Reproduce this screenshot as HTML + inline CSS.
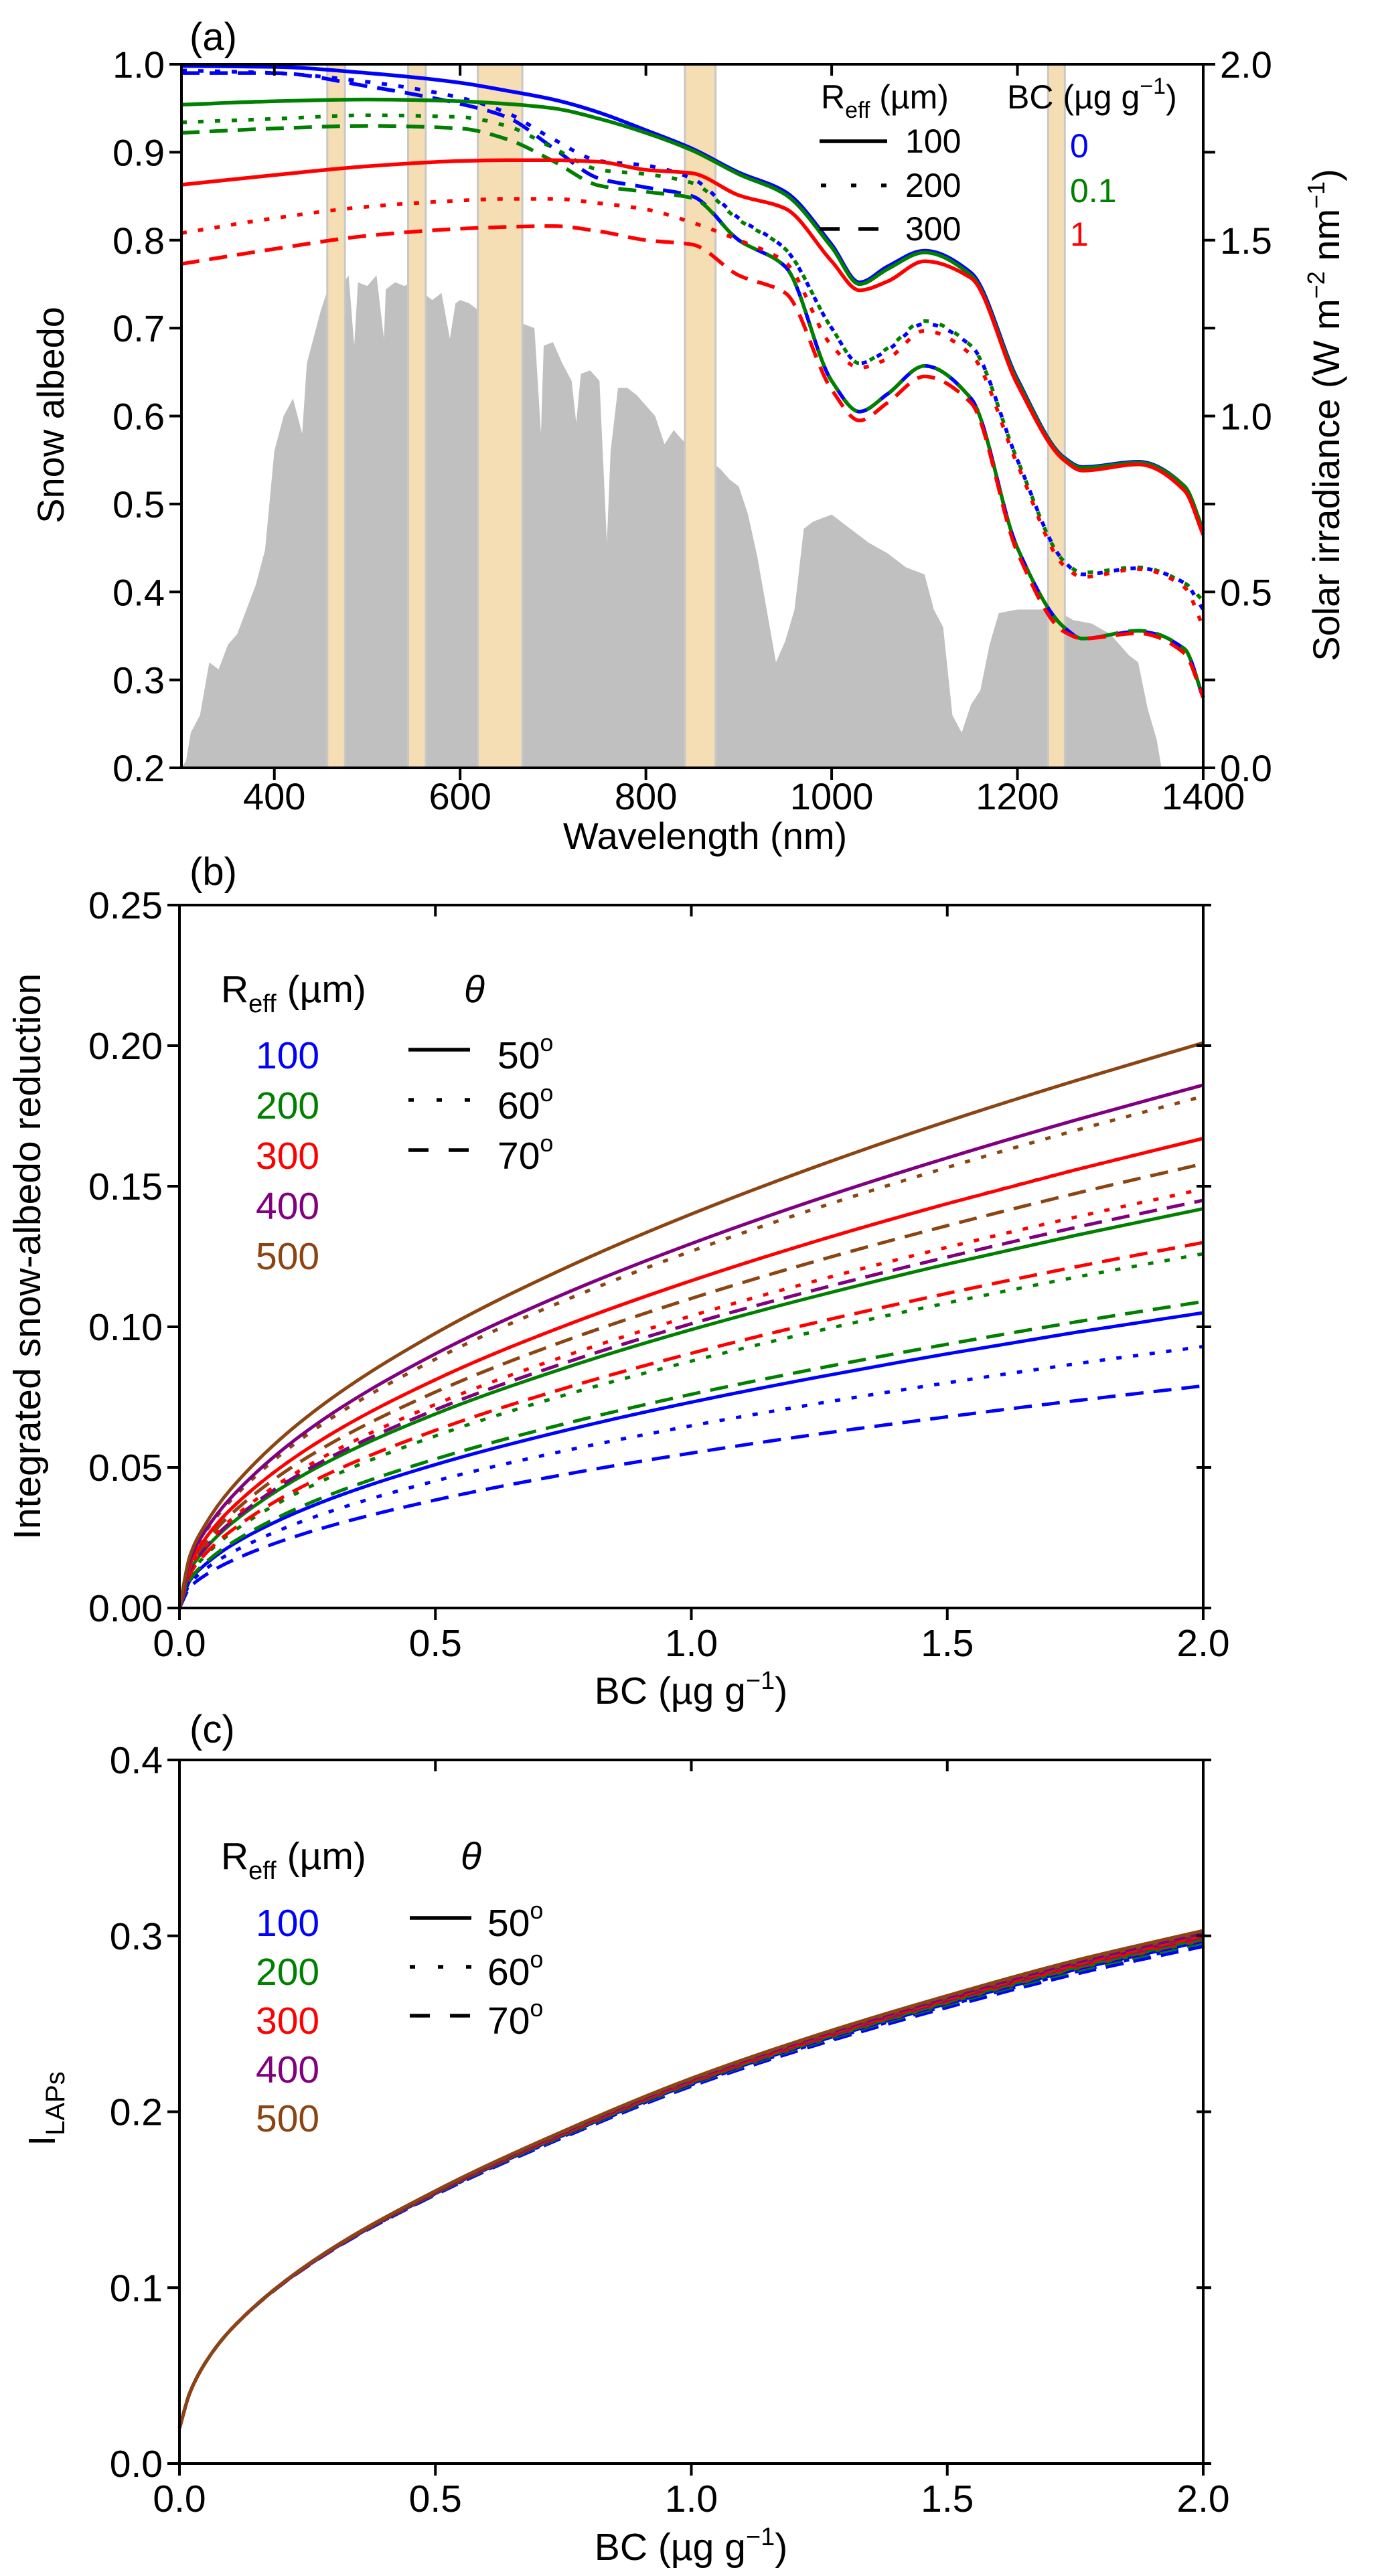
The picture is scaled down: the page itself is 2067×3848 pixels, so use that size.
<!DOCTYPE html>
<html><head><meta charset="utf-8"><style>
html,body{margin:0;padding:0;background:#fff}
svg{display:block}
text{font-family:"Liberation Sans",Arial,sans-serif;fill:#000}
</style></head><body>
<svg id="fig" width="2067" height="3848" viewBox="0 0 2067 3848" xmlns="http://www.w3.org/2000/svg">
<g id="pa"></g>
<g id="pb"></g>
<g id="pc"></g>
</svg>
<script>
// ---------- Panel (a) data ----------
const aWl = [300,400,500,600,650,700,750,800,850,900,950,1000,1030,1060,1100,1150,1200,1250,1270,1330,1380,1400];
const aBlueSolid  = [0.998,0.997,0.990,0.979,0.970,0.960,0.945,0.925,0.904,0.877,0.855,0.795,0.752,0.770,0.788,0.763,0.642,0.553,0.542,0.548,0.520,0.470];
const aGreenSolid = [0.954,0.958,0.960,0.958,0.955,0.950,0.938,0.922,0.902,0.875,0.852,0.792,0.750,0.767,0.786,0.760,0.640,0.552,0.541,0.547,0.520,0.470];
const aRedSolid   = [0.863,0.874,0.884,0.890,0.891,0.891,0.889,0.880,0.876,0.851,0.836,0.776,0.743,0.753,0.776,0.757,0.636,0.550,0.538,0.545,0.515,0.465];
const aBlueDot    = [0.993,0.990,0.980,0.962,0.945,0.915,0.890,0.885,0.870,0.825,0.790,0.700,0.660,0.675,0.705,0.680,0.550,0.435,0.420,0.427,0.410,0.380];
const aGreenDot   = [0.934,0.938,0.942,0.940,0.930,0.905,0.880,0.875,0.865,0.823,0.790,0.700,0.660,0.677,0.708,0.680,0.550,0.435,0.422,0.428,0.410,0.390];
const aRedDot     = [0.808,0.825,0.838,0.845,0.847,0.847,0.842,0.835,0.820,0.800,0.775,0.680,0.655,0.665,0.697,0.670,0.545,0.430,0.417,0.426,0.405,0.360];
const aBlueDash   = [0.990,0.990,0.975,0.955,0.940,0.905,0.870,0.860,0.850,0.800,0.770,0.640,0.605,0.625,0.657,0.620,0.450,0.360,0.347,0.355,0.335,0.280];
const aGreenDash  = [0.922,0.927,0.930,0.927,0.915,0.890,0.862,0.855,0.848,0.800,0.770,0.640,0.605,0.625,0.657,0.620,0.450,0.360,0.347,0.356,0.335,0.280];
const aRedDash    = [0.773,0.790,0.805,0.813,0.815,0.816,0.810,0.800,0.795,0.760,0.740,0.630,0.595,0.615,0.645,0.615,0.445,0.355,0.347,0.353,0.330,0.280];
const solarWl  = [300,305,310,320,330,340,350,360,370,380,390,400,410,420,430,435,440,450,460,470,480,486,490,500,510,518,520,530,540,550,560,570,580,589,595,600,610,620,630,640,650,656,660,670,680,687,690,700,710,720,725,730,740,750,758,762,770,780,790,800,810,820,830,840,850,860,870,880,890,900,910,920,930,940,950,960,970,980,990,1000,1020,1040,1060,1080,1100,1110,1120,1130,1140,1150,1160,1170,1180,1200,1220,1240,1260,1280,1300,1320,1330,1340,1350,1355];
const solarIrr = [0,0.02,0.1,0.15,0.3,0.28,0.35,0.38,0.45,0.52,0.62,0.9,1.0,1.05,0.95,1.15,1.2,1.3,1.38,1.36,1.4,1.2,1.38,1.37,1.4,1.22,1.36,1.38,1.37,1.38,1.35,1.33,1.35,1.22,1.32,1.33,1.32,1.3,1.3,1.29,1.28,1.12,1.27,1.26,1.25,0.95,1.2,1.21,1.15,1.1,0.98,1.12,1.13,1.1,0.64,0.9,1.08,1.08,1.06,1.03,1.0,0.92,0.96,0.93,0.9,0.88,0.87,0.85,0.82,0.8,0.72,0.6,0.45,0.3,0.36,0.45,0.68,0.7,0.71,0.72,0.68,0.64,0.61,0.57,0.55,0.45,0.4,0.15,0.1,0.18,0.22,0.35,0.44,0.45,0.45,0.45,0.42,0.41,0.38,0.32,0.3,0.17,0.08,0];
const bandStart = [457,544,619,842,1233];
const bandEnd   = [476,563,667,875,1251];
const aXTicks = [400,600,800,1000,1200,1400];
const aYTicks = [0.2,0.3,0.4,0.5,0.6,0.7,0.8,0.9,1.0];
const aRTicks = [0.0,0.5,1.0,1.5,2.0];

// ---------- Panel (b) data ----------
const bcX = [0,0.02,0.05,0.1,0.25,0.5,0.75,1,1.25,1.5,1.75,2];
const bBrownSolid  = [0,.0183,.0295,.0422,.0681,.0977,.1206,.1401,.1574,.1731,.1875,.201];
const bPurpleSolid = [0,.0169,.0273,.0391,.0631,.0904,.1116,.1296,.1456,.1601,.1735,.186];
const bBrownDot    = [0,.0166,.0268,.0382,.0617,.0885,.1092,.1269,.1425,.1567,.1698,.182];
const bPurpleDot   = [0,.0152,.0245,.0351,.0566,.0812,.1002,.1164,.1308,.1438,.1558,.167];
const bRedSolid    = [0,.0152,.0245,.0351,.0566,.0812,.1002,.1164,.1308,.1438,.1558,.167];
const bBrownDash   = [0,.0144,.0232,.0332,.0536,.0768,.0948,.1101,.1237,.136,.1474,.158];
const bRedDot      = [0,.0136,.0219,.0313,.0505,.0724,.0894,.1039,.1167,.1283,.139,.149];
const bPurpleDash  = [0,.0132,.0213,.0305,.0492,.0705,.087,.1011,.1135,.1248,.1353,.145];
const bGreenSolid  = [0,.0129,.0209,.0298,.0481,.069,.0852,.099,.1112,.1223,.1325,.142];
const bRedDash     = [0,.0118,.0191,.0273,.0441,.0632,.078,.0906,.1018,.1119,.1213,.13];
const bGreenDot    = [0,.0115,.0185,.0265,.0427,.0612,.0756,.0878,.0987,.1085,.1176,.126];
const bGreenDash   = [0,.0099,.016,.0229,.037,.053,.0654,.076,.0853,.0938,.1017,.109];
const bBlueSolid   = [0,.0096,.0154,.0221,.0356,.051,.063,.0732,.0822,.0904,.098,.105];
const bBlueDot     = [0,.0085,.0137,.0195,.0315,.0452,.0558,.0648,.0728,.0801,.0868,.093];
const bBlueDash    = [0,.0072,.0116,.0166,.0268,.0384,.0474,.0551,.0619,.068,.0737,.079];
const bYTicks = [0,0.05,0.10,0.15,0.20,0.25];
const bcXTicks = [0,0.5,1.0,1.5,2.0];

// ---------- Panel (c) data ----------
const cBrownSolid  = [.020,.040,.057,.076,.113,.155,.189,.219,.244,.266,.286,.303];
const cBrownDot    = [.020,.040,.057,.076,.113,.1548,.1886,.2185,.2434,.2653,.2851,.302];
const cPurpleSolid = [.020,.040,.057,.076,.1129,.1546,.1884,.2183,.2431,.2649,.2847,.3015];
const cBrownDash   = [.020,.040,.057,.076,.1128,.1545,.1882,.218,.2428,.2645,.2843,.301];
const cPurpleDot   = [.020,.040,.057,.076,.1128,.1544,.188,.2178,.2425,.2641,.2838,.3005];
const cRedSolid    = [.020,.040,.057,.076,.1127,.1543,.1878,.2175,.2421,.2638,.2834,.300];
const cPurpleDash  = [.020,.040,.057,.076,.1127,.1541,.1876,.2173,.2418,.2634,.283,.2995];
const cRedDot      = [.020,.040,.057,.076,.1126,.154,.1874,.217,.2415,.263,.2825,.299];
const cGreenSolid  = [.020,.040,.057,.076,.1126,.1539,.1872,.2168,.2412,.2626,.2821,.2985];
const cRedDash     = [.020,.040,.057,.076,.1125,.1538,.187,.2165,.2409,.2623,.2817,.298];
const cGreenDot    = [.020,.040,.057,.076,.1125,.1536,.1868,.2163,.2406,.2619,.2812,.2975];
const cBlueSolid   = [.020,.040,.057,.076,.1124,.1535,.1866,.216,.2403,.2615,.2808,.297];
const cGreenDash   = [.020,.040,.057,.076,.1123,.1533,.1862,.2155,.2397,.2608,.2799,.296];
const cBlueDot     = [.020,.040,.057,.076,.1123,.1531,.186,.2153,.2394,.2604,.2795,.2955];
const cBlueDash    = [.020,.040,.057,.076,.1121,.1528,.1854,.2145,.2384,.2593,.2782,.294];
const cYTicks = [0.0,0.1,0.2,0.3,0.4];

// ---------- helpers ----------
const NS = 'http://www.w3.org/2000/svg';
const BLUE='#0000ff', GREEN='#008000', RED='#ff0000', PURPLE='#800080', BROWN='#8b4513';
const DOT='8 17', DASH='27 15';
function mk(parent, tag, attrs){
  const e = document.createElementNS(NS, tag);
  for (const k in attrs) e.setAttribute(k, attrs[k]);
  parent.appendChild(e);
  return e;
}
// monotone cubic (Fritsch-Carlson) path through points with increasing x
function smoothPath(pts){
  const n = pts.length;
  const h=[], s=[];
  for (let i=0;i<n-1;i++){ h[i]=pts[i+1][0]-pts[i][0]; s[i]=(pts[i+1][1]-pts[i][1])/h[i]; }
  const m=[];
  m[0]=s[0]; m[n-1]=s[n-2];
  for (let i=1;i<n-1;i++){
    if (s[i-1]*s[i]<=0) m[i]=0;
    else { const w1=2*h[i]+h[i-1], w2=h[i]+2*h[i-1]; m[i]=(w1+w2)/(w1/s[i-1]+w2/s[i]); }
  }
  let d='M'+pts[0][0].toFixed(1)+','+pts[0][1].toFixed(1);
  for (let i=0;i<n-1;i++){
    const c1x=pts[i][0]+h[i]/3, c1y=pts[i][1]+m[i]*h[i]/3;
    const c2x=pts[i+1][0]-h[i]/3, c2y=pts[i+1][1]-m[i+1]*h[i]/3;
    d+=' C'+c1x.toFixed(1)+','+c1y.toFixed(1)+' '+c2x.toFixed(1)+','+c2y.toFixed(1)+' '+pts[i+1][0].toFixed(1)+','+pts[i+1][1].toFixed(1);
  }
  return d;
}
function fmt(v,n){return v.toFixed(n);}

// ================= Panel (a) =================
(function(){
  const g = document.getElementById('pa');
  const L=271, R=1797, T=96, B=1147;
  const x = v => L + (v-300)/1100*(R-L);
  const y = v => B - (v-0.2)/0.8*(B-T);
  const yr = v => B - v/2*(B-T);
  let d = 'M'+x(solarWl[0])+','+B;
  for (let i=0;i<solarWl.length;i++) d+=' L'+x(solarWl[i]).toFixed(1)+','+yr(solarIrr[i]).toFixed(1);
  d += ' L'+x(solarWl[solarWl.length-1])+','+B+' Z';
  const sp = mk(g,'path',{d:d, fill:'#c0c0c0', stroke:'none'});
  
  
  for (let i=0;i<bandStart.length;i++){
    const r = mk(g,'rect',{x:x(bandStart[i]), y:T, width:x(bandEnd[i])-x(bandStart[i]), height:B-T, fill:'#f5deb3', stroke:'#c8c8c8', 'stroke-width':3});
    
    
  }
  const series = [
    ['blue-solid',aBlueSolid,BLUE,null],['blue-dotted',aBlueDot,BLUE,DOT],['blue-dashed',aBlueDash,BLUE,DASH],
    ['green-dotted',aGreenDot,GREEN,DOT],['green-dashed',aGreenDash,GREEN,DASH],['green-solid',aGreenSolid,GREEN,null],
    ['red-solid',aRedSolid,RED,null],['red-dotted',aRedDot,RED,DOT],['red-dashed',aRedDash,RED,DASH]
  ];
  for (const s of series){
    const pts = aWl.map((w,i)=>[x(w), y(s[1][i])]);
    const p = mk(g,'path',{d:smoothPath(pts), fill:'none', stroke:s[2], 'stroke-width':5.5, 'stroke-linejoin':'round'});
    if (s[3]) p.setAttribute('stroke-dasharray', s[3]);
    
    
  }
  const fr = mk(g,'rect',{x:L,y:T,width:R-L,height:B-T,fill:'none',stroke:'#000','stroke-width':4});
  
  
  for (const t of aXTicks){
    mk(g,'line',{x1:x(t),x2:x(t),y1:B,y2:B+18,stroke:'#000','stroke-width':4});
    mk(g,'line',{x1:x(t),x2:x(t),y1:T,y2:T+17,stroke:'#000','stroke-width':4});
    const tx = mk(g,'text',{x:x(t), y:B+62, 'font-size':56, 'text-anchor':'middle'});
    tx.textContent = t;
    
    
  }
  for (const t of aYTicks){
    mk(g,'line',{x1:L-18,x2:L,y1:y(t),y2:y(t),stroke:'#000','stroke-width':4});
    mk(g,'line',{x1:R,x2:R+18,y1:y(t),y2:y(t),stroke:'#000','stroke-width':4});
    const tx = mk(g,'text',{x:L-25, y:y(t)+20, 'font-size':56, 'text-anchor':'end'});
    tx.textContent = fmt(t,1);
    
    
  }
  for (const t of aRTicks){
    const tx = mk(g,'text',{x:R+25, y:yr(t)+20, 'font-size':56, 'text-anchor':'start'});
    tx.textContent = fmt(t,1);
    
    
  }
})();

// ================= Panel (b) & (c) =================
function bcPanel(gid, T, B, yMax, yTicks, yDec, seriesList){
  const g = document.getElementById(gid);
  const L=268, R=1797;
  const x = v => L + v/2*(R-L);
  const y = v => B - v/yMax*(B-T);
  for (const s of seriesList){
    const pts = bcX.map((v,i)=>[x(v), y(s[1][i])]);
    const p = mk(g,'path',{d:smoothPath(pts), fill:'none', stroke:s[2], 'stroke-width':5, 'stroke-linejoin':'round'});
    if (s[3]) p.setAttribute('stroke-dasharray', s[3]);
    
    
  }
  const fr = mk(g,'rect',{x:L,y:T,width:R-L,height:B-T,fill:'none',stroke:'#000','stroke-width':4});
  
  
  for (const t of bcXTicks){
    mk(g,'line',{x1:x(t),x2:x(t),y1:B,y2:B+18,stroke:'#000','stroke-width':4});
    mk(g,'line',{x1:x(t),x2:x(t),y1:T,y2:T+17,stroke:'#000','stroke-width':4});
    const tx = mk(g,'text',{x:x(t), y:B+72, 'font-size':57, 'text-anchor':'middle'});
    tx.textContent = fmt(t,1);
    
    
  }
  for (const t of yTicks){
    mk(g,'line',{x1:L-18,x2:L,y1:y(t),y2:y(t),stroke:'#000','stroke-width':4});
    mk(g,'line',{x1:R-10,x2:R+12,y1:y(t),y2:y(t),stroke:'#000','stroke-width':4});
    const tx = mk(g,'text',{x:L-25, y:y(t)+20, 'font-size':57, 'text-anchor':'end'});
    tx.textContent = fmt(t,yDec);
    
    
  }
}
bcPanel('pb', 1352, 2402, 0.25, bYTicks, 2, [
  ['blue-70',bBlueDash,BLUE,DASH],['blue-60',bBlueDot,BLUE,DOT],['blue-50',bBlueSolid,BLUE,null],
  ['green-70',bGreenDash,GREEN,DASH],['green-60',bGreenDot,GREEN,DOT],['green-50',bGreenSolid,GREEN,null],
  ['red-70',bRedDash,RED,DASH],['purple-70',bPurpleDash,PURPLE,DASH],['red-60',bRedDot,RED,DOT],
  ['brown-70',bBrownDash,BROWN,DASH],['purple-60',bPurpleDot,PURPLE,DOT],['red-50',bRedSolid,RED,null],
  ['brown-60',bBrownDot,BROWN,DOT],['purple-50',bPurpleSolid,PURPLE,null],['brown-50',bBrownSolid,BROWN,null]
]);
bcPanel('pc', 2629, 3680, 0.4, cYTicks, 1, [
  ['blue-70',cBlueDash,BLUE,DASH],['blue-60',cBlueDot,BLUE,DOT],['green-70',cGreenDash,GREEN,DASH],
  ['blue-50',cBlueSolid,BLUE,null],['green-60',cGreenDot,GREEN,DOT],['red-70',cRedDash,RED,DASH],
  ['green-50',cGreenSolid,GREEN,null],['red-60',cRedDot,RED,DOT],['purple-70',cPurpleDash,PURPLE,DASH],
  ['red-50',cRedSolid,RED,null],['purple-60',cPurpleDot,PURPLE,DOT],['brown-70',cBrownDash,BROWN,DASH],
  ['purple-50',cPurpleSolid,PURPLE,null],['brown-60',cBrownDot,BROWN,DOT],['brown-50',cBrownSolid,BROWN,null]
]);
</script>
<div style="position:absolute;left:0;top:0;width:2067px;height:3848px;pointer-events:none">
<svg width="2067" height="3848" viewBox="0 0 2067 3848" xmlns="http://www.w3.org/2000/svg" style="font-family:'Liberation Sans',Arial,sans-serif">
  <text x="283" y="75" font-size="58">(a)</text>
  <text x="1053" y="1268" font-size="56" text-anchor="middle">Wavelength (nm)</text>
  <text transform="translate(95,620) rotate(-90)" font-size="56" text-anchor="middle">Snow albedo</text>
  <text transform="translate(2000,620) rotate(-90)" font-size="56" text-anchor="middle">Solar irradiance (W m<tspan dy="-22" font-size="36">−2</tspan><tspan dy="22"> nm</tspan><tspan dy="-22" font-size="36">−1</tspan><tspan dy="22">)</tspan></text>
  <g>
    <text x="1226" y="162" font-size="50">R<tspan dy="14" font-size="34">eff</tspan><tspan dy="-14"> (µm)</tspan></text>
    <line x1="1224" x2="1325" y1="211" y2="211" stroke="#000" stroke-width="5.5"/>
    <line x1="1226" x2="1325" y1="277" y2="277" stroke="#000" stroke-width="5.5" stroke-dasharray="8 37"/>
    <line x1="1224" x2="1325" y1="342" y2="342" stroke="#000" stroke-width="5.5" stroke-dasharray="30 28"/>
    <text x="1352" y="228" font-size="50">100</text>
    <text x="1352" y="294" font-size="50">200</text>
    <text x="1352" y="359" font-size="50">300</text>
    <text x="1504" y="162" font-size="50">BC (µg g<tspan dy="-22" font-size="34">−1</tspan><tspan dy="22">)</tspan></text>
    <text x="1598" y="235" font-size="50" style="fill:#0000ff">0</text>
    <text x="1598" y="302" font-size="50" style="fill:#008000">0.1</text>
    <text x="1598" y="367" font-size="50" style="fill:#ff0000">1</text>
  </g>
  <text x="283" y="1322" font-size="58">(b)</text>
  <text x="1032" y="2545" font-size="57" text-anchor="middle">BC (µg g<tspan dy="-22" font-size="38">−1</tspan><tspan dy="22">)</tspan></text>
  <text transform="translate(60,1877) rotate(-90)" font-size="57" text-anchor="middle">Integrated snow-albedo reduction</text>
  <g>
    <text x="330" y="1497" font-size="57">R<tspan dy="15" font-size="38">eff</tspan><tspan dy="-15"> (µm)</tspan></text>
    <text x="693" y="1497" font-size="57" font-style="italic">θ</text>
    <text x="382" y="1596" font-size="57" style="fill:#0000ff">100</text>
    <text x="382" y="1671" font-size="57" style="fill:#008000">200</text>
    <text x="382" y="1746" font-size="57" style="fill:#ff0000">300</text>
    <text x="382" y="1821" font-size="57" style="fill:#800080">400</text>
    <text x="382" y="1896" font-size="57" style="fill:#8b4513">500</text>
    <line x1="610" x2="702" y1="1568" y2="1568" stroke="#000" stroke-width="5.5"/>
    <line x1="610" x2="702" y1="1643" y2="1643" stroke="#000" stroke-width="5.5" stroke-dasharray="8 34"/>
    <line x1="610" x2="702" y1="1718" y2="1718" stroke="#000" stroke-width="5.5" stroke-dasharray="30 30"/>
    <text x="743" y="1596" font-size="57">50<tspan dy="-26" font-size="36">o</tspan></text>
    <text x="743" y="1671" font-size="57">60<tspan dy="-26" font-size="36">o</tspan></text>
    <text x="743" y="1746" font-size="57">70<tspan dy="-26" font-size="36">o</tspan></text>
  </g>
  <text x="283" y="2603" font-size="58">(c)</text>
  <text x="1032" y="3824" font-size="57" text-anchor="middle">BC (µg g<tspan dy="-22" font-size="38">−1</tspan><tspan dy="22">)</tspan></text>
  <text transform="translate(82,3150) rotate(-90)" font-size="57" text-anchor="middle">I<tspan dy="14" font-size="40">LAPs</tspan></text>
  <g>
    <text x="330" y="2792" font-size="57">R<tspan dy="15" font-size="38">eff</tspan><tspan dy="-15"> (µm)</tspan></text>
    <text x="688" y="2792" font-size="57" font-style="italic">θ</text>
    <text x="382" y="2892" font-size="57" style="fill:#0000ff">100</text>
    <text x="382" y="2965" font-size="57" style="fill:#008000">200</text>
    <text x="382" y="3038" font-size="57" style="fill:#ff0000">300</text>
    <text x="382" y="3111" font-size="57" style="fill:#800080">400</text>
    <text x="382" y="3184" font-size="57" style="fill:#8b4513">500</text>
    <line x1="612" x2="704" y1="2865" y2="2865" stroke="#000" stroke-width="5.5"/>
    <line x1="612" x2="704" y1="2938" y2="2938" stroke="#000" stroke-width="5.5" stroke-dasharray="8 34"/>
    <line x1="612" x2="704" y1="3011" y2="3011" stroke="#000" stroke-width="5.5" stroke-dasharray="30 30"/>
    <text x="728" y="2892" font-size="57">50<tspan dy="-26" font-size="36">o</tspan></text>
    <text x="728" y="2965" font-size="57">60<tspan dy="-26" font-size="36">o</tspan></text>
    <text x="728" y="3038" font-size="57">70<tspan dy="-26" font-size="36">o</tspan></text>
  </g>
</svg>
</div>
</body></html>
